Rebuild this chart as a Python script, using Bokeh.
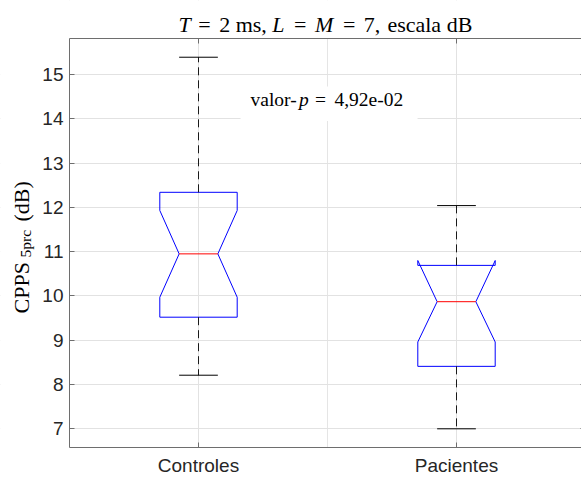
import math
from bokeh.plotting import figure
from bokeh.models import (FixedTicker, LinearAxis, Label, BoxAnnotation, Range1d, Grid)
from bokeh.embed import file_html
from bokeh.resources import INLINE

# ---------------- data ----------------
groups = ["Controles", "Pacientes"]
positions = [1, 2]
q1 = [9.52, 8.41]
medians = [10.95, 9.87]
q3 = [12.34, 10.69]
notch_lo = [9.97, 8.96]
notch_hi = [11.93, 10.80]
whisker_lo = [8.21, 7.00]
whisker_hi = [15.39, 12.04]
y_ticks = [7, 8, 9, 10, 11, 12, 13, 14, 15]
p_value_label = "4,92e-02"

# axes limits (data units)
X_LIM = (0.5, 2.5)
Y_LIM = (6.5777, 15.8129)

# ---------------- style ----------------
W, H = 581, 480
BOX_HALF = 0.15
NOTCH_HALF = 0.075
AXIS_COLOR = "#6e6e6e"
TICK_FONT = "Liberation Sans"
SERIF = "Liberation Serif"
BASE_FIX = 7.5   # correction between requested and drawn baseline

# the frame covers the whole canvas; axes are drawn at fixed locations
p = figure(width=W, height=H, output_backend="svg", toolbar_location=None,
           x_range=Range1d(0.232558, 2.484496), y_range=Range1d(5.8326, 16.6709),
           min_border=0, x_axis_location=None, y_axis_location=None, title=None)
p.outline_line_color = None
p.background_fill_color = "white"
p.border_fill_color = "white"

# grids
p.add_layout(Grid(dimension=0, ticker=FixedTicker(ticks=positions),
                  grid_line_color="#e2e2e2", grid_line_width=1), "center")
p.add_layout(Grid(dimension=1, ticker=FixedTicker(ticks=y_ticks),
                  grid_line_color="#e2e2e2", grid_line_width=1), "center")
# blank the grid outside the axes box
for kw in (dict(right=X_LIM[0]), dict(bottom=Y_LIM[1]), dict(top=Y_LIM[0])):
    p.add_layout(BoxAnnotation(fill_color="white", fill_alpha=1.0, line_color=None,
                               level="underlay", **kw))

common = dict(axis_line_color=AXIS_COLOR, major_tick_line_color=AXIS_COLOR,
              major_tick_in=5, major_tick_out=0, minor_tick_line_color=None,
              major_label_text_font=TICK_FONT, major_label_text_font_size="19px",
              major_label_text_color="#262626")

yaxis = LinearAxis(ticker=FixedTicker(ticks=y_ticks), fixed_location=X_LIM[0],
                   bounds=Y_LIM, major_label_standoff=6, **common)
p.add_layout(yaxis, "left")

xaxis = LinearAxis(ticker=FixedTicker(ticks=positions), fixed_location=Y_LIM[0],
                   bounds=(X_LIM[0], 3.0), major_label_standoff=7,
                   major_label_overrides={pos: name for pos, name in zip(positions, groups)},
                   **common)
p.add_layout(xaxis, "below")

top_axis = LinearAxis(ticker=FixedTicker(ticks=positions), fixed_location=Y_LIM[1],
                      bounds=(X_LIM[0], 3.0), **common)
top_axis.major_label_text_font_size = "0px"
top_axis.major_label_text_color = None
p.add_layout(top_axis, "above")

right_axis = LinearAxis(ticker=FixedTicker(ticks=y_ticks), fixed_location=X_LIM[1],
                        bounds=Y_LIM, **common)
right_axis.major_label_text_font_size = "0px"
right_axis.major_label_text_color = None
p.add_layout(right_axis, "right")

# ---------------- boxes ----------------
xs, ys = [], []
for x, a, nl, m, nh, b in zip(positions, q1, notch_lo, medians, notch_hi, q3):
    L, R = x - BOX_HALF, x + BOX_HALF
    xs.append([L, L, x - NOTCH_HALF, L, L, R, R, x + NOTCH_HALF, R, R, L])
    ys.append([a, nl, m, nh, b, b, nh, m, nl, a, a])
p.multi_line(xs=xs, ys=ys, line_color="#0000ff", line_width=1)

# medians
p.segment(x0=[x - NOTCH_HALF for x in positions], y0=medians,
          x1=[x + NOTCH_HALF for x in positions], y1=medians,
          line_color="#ff0000", line_width=1)

# whiskers
p.segment(x0=positions, y0=q3, x1=positions, y1=whisker_hi,
          line_color="#1a1a1a", line_width=1, line_dash="8 5")
p.segment(x0=positions, y0=q1, x1=positions, y1=whisker_lo,
          line_color="#1a1a1a", line_width=1, line_dash="8 5")
# caps
p.segment(x0=[x - NOTCH_HALF for x in positions], y0=whisker_hi,
          x1=[x + NOTCH_HALF for x in positions], y1=whisker_hi,
          line_color="#000000", line_width=1)
p.segment(x0=[x - NOTCH_HALF for x in positions], y0=whisker_lo,
          x1=[x + NOTCH_HALF for x in positions], y1=whisker_lo,
          line_color="#000000", line_width=1)

# ---------------- text ----------------


def piece(text, X, Y, size, style="normal"):
    p.add_layout(Label(x=X, y=H - Y + BASE_FIX, x_units="screen", y_units="screen",
                       text=text, text_font=SERIF, text_font_size=size,
                       text_font_style=style, text_color="#000000",
                       text_align="left", text_baseline="alphabetic"))


def vpiece(text, X, Y, size):
    p.add_layout(Label(x=X - BASE_FIX, y=H - Y, x_units="screen", y_units="screen",
                       text=text, text_font=SERIF, text_font_size=size,
                       text_color="#000000", text_align="left",
                       text_baseline="alphabetic", angle=math.pi / 2))


# p-value box
p.add_layout(BoxAnnotation(left=1.163, right=1.849, top=14.73, bottom=13.95,
                           fill_color="white", fill_alpha=1.0, line_color=None))
vY = 106.7
piece("valor-", 250, vY, "19.5px")
piece("p", 298.6, vY, "19.5px", "italic")
piece("=", 314.6, vY, "19.5px")
piece(p_value_label, 333.9, vY, "19.5px")

# title
tY = 31.5
x0 = 178
piece("T", x0, tY, "22px", "italic")
piece("=", x0 + 19.8, tY, "22px")
piece("2 ms,", x0 + 40.7, tY, "22px")
piece("L", x0 + 93.8, tY, "22px", "italic")
piece("=", x0 + 115.6, tY, "22px")
piece("M", x0 + 136.5, tY, "22px", "italic")
piece("=", x0 + 164.4, tY, "22px")
piece("7,", x0 + 185.3, tY, "22px")
piece("escala dB", x0 + 208.9, tY, "22px")

# y label (rotated)
vpiece("CPPS", 28, 313, "22px")
vpiece("5prc", 32.5, 257, "15.5px")
vpiece("(dB)", 28, 221, "22px")

open("out.html", "w").write(file_html(p, INLINE))
